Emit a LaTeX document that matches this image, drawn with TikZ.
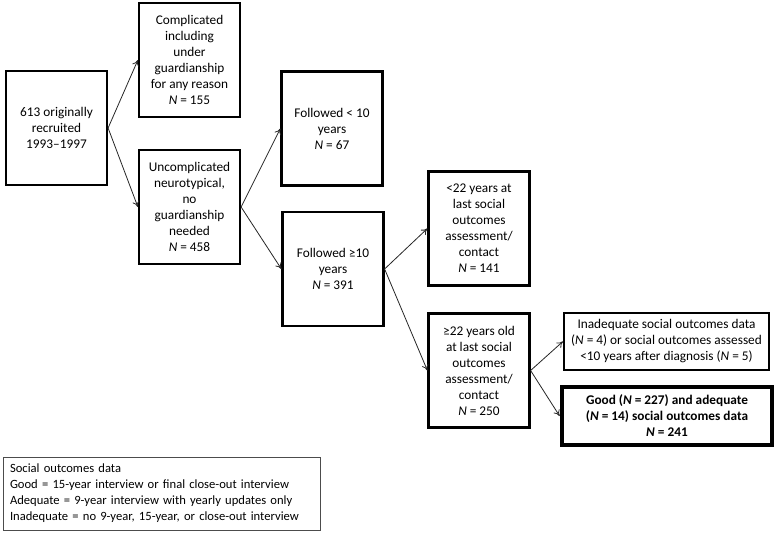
\documentclass[tikz,border=0pt]{standalone}
\usepackage{fontspec}
\setmainfont{Carlito}
\usetikzlibrary{arrows.meta}

\newcommand{\Nit}{\textit{N}}

\begin{document}
\begin{tikzpicture}[x=1pt,y=-1pt,
    font=\fontsize{13.3}{16}\selectfont,
    box/.style={rectangle,draw=black,line width=2.2pt,align=center,inner sep=2pt}]
\useasboundingbox (0,0) rectangle (776,533);
\begin{scope}[every node/.style={box,minimum width=101pt,minimum height=114pt}]
    \node (A) at (56.5,128) {613 originally\\recruited\\1993--1997};
    \node (B) at (189.5,60) {Complicated\\including\\under\\guardianship\\for any reason\\\Nit{} = 155};
    \node (C) at (189.5,207) {Uncomplicated\\neurotypical,\\no\\guardianship\\needed\\\Nit{} = 458};
    \node (D) at (332,128.5) {Followed < 10\\years\\\Nit{} = 67};
    \node (E) at (333,269) {Followed ≥10\\years\\\Nit{} = 391};
    \node (F) at (479,228.5) {<22 years at\\last social\\outcomes\\assessment/\\contact\\\Nit{} = 141};
    \node (G) at (479,370.5) {≥22 years old\\at last social\\outcomes\\assessment/\\contact\\\Nit{} = 250};
\end{scope}
\node[box,minimum width=205pt,minimum height=57pt] (H) at (666.5,341.5)
    {Inadequate social outcomes data\\(\Nit{} = 4) or social outcomes assessed\\<10 years after diagnosis (\Nit{} = 5)};
\node[box,line width=4.8pt,minimum width=210pt,minimum height=58pt,font=\fontsize{13.3}{16}\selectfont\bfseries] (I) at (667,416)
    {Good (\Nit{} = 227) and adequate\\(\Nit{} = 14) social outcomes data\\\Nit{} = 241};
% legend
\node[draw=black!70,line width=0.8pt,align=left,minimum width=317pt,minimum height=73pt,
    text width=303pt,inner xsep=7pt,font=\fontsize{12.6}{16}\selectfont] (L) at (161.5,493.5)
    {Social outcomes data\\Good = 15-year interview or final close-out interview\\Adequate = 9-year interview with yearly updates only\\Inadequate = no 9-year, 15-year, or close-out interview};
\begin{scope}[every edge/.style={draw=black!85,line width=0.8pt},>={To[length=6pt,width=7pt]}]
    \path [->] (A.east) edge (B.west);
    \path [->] (A.east) edge (C.west);
    \path [->] (C.east) edge (D.west);
    \path [->] (C.east) edge (E.west);
    \path [->] (E.east) edge (F.west);
    \path [->] (E.east) edge (G.west);
    \path [->] (G.east) edge (H.west);
    \path [->] (G.east) edge (I.west);
\end{scope}
\end{tikzpicture}
\end{document}
